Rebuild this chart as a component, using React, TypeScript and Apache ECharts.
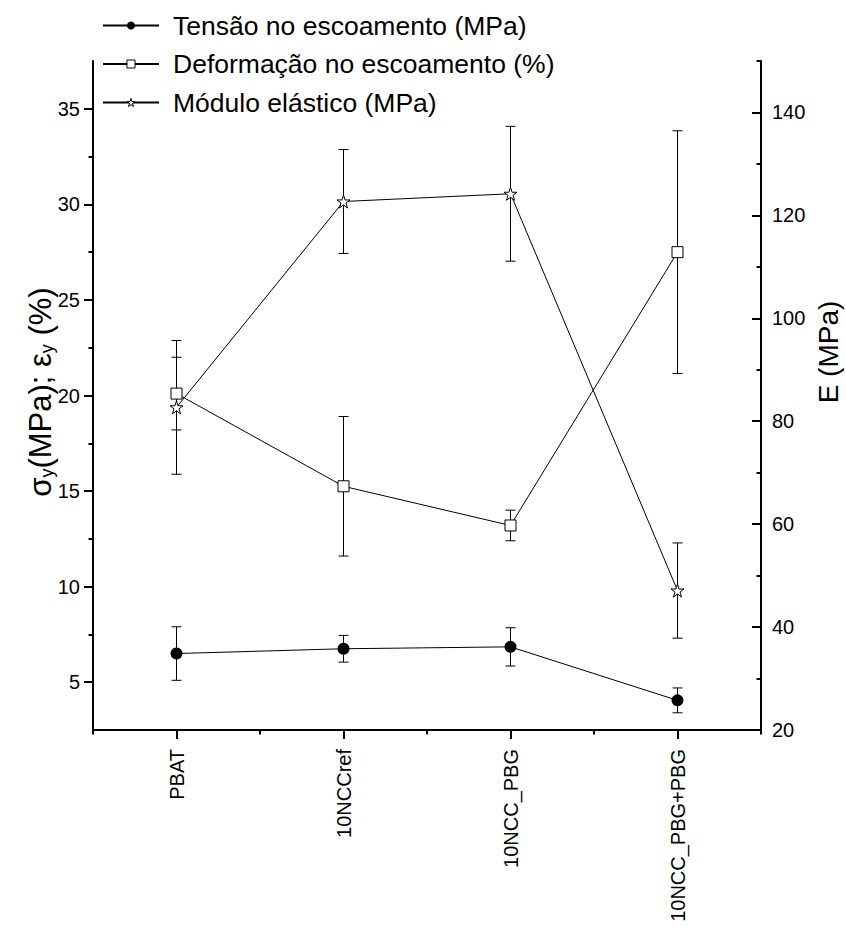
import React, { useEffect, useRef } from 'react';
import * as echarts from 'echarts';

const categories = ['PBAT', '10NCCref', '10NCC_PBG', '10NCC_PBG+PBG'];
const tensao = [6.5, 6.75, 6.85, 4.05];
const tensaoErr = [1.4, 0.7, 1.0, 0.65];
const deformacao = [20.1, 15.25, 13.2, 27.5];
const deformacaoErr = [1.9, 3.65, 0.8, 6.35];
const modulo = [82.7, 122.7, 124.2, 47.1];
const moduloErr = [13, 10.1, 13.1, 9.25];

const leftMajor = [5, 10, 15, 20, 25, 30, 35];
const leftMinor = [7.5, 12.5, 17.5, 22.5, 27.5, 32.5];
const rightMajor = [20, 40, 60, 80, 100, 120, 140];
const rightMinor = [30, 50, 70, 90, 110, 130, 150];

const seriesNames = ['Tensão no escoamento (MPa)', 'Deformação no escoamento (%)', 'Módulo elástico (MPa)'];

const STAR = 'path://M50,0 L61.8,35.1 L98.8,35.1 L68.8,56.8 L80.3,91.9 L50,70.2 L19.7,91.9 L31.2,56.8 L1.2,35.1 L38.2,35.1 Z';
const FONT = '"Liberation Sans", Arial, Helvetica, sans-serif';

function errorBars(values: number[], errs: number[], yAxisIndex: number) {
  return {
    type: 'custom',
    xAxisIndex: 0,
    yAxisIndex,
    z: 1,
    silent: true,
    data: values.map((v, i) => [i, v - errs[i], v + errs[i]]),
    encode: { x: 0, y: [1, 2] },
    renderItem: (params: any, api: any) => {
      const lo = api.coord([api.value(0), api.value(1)]);
      const hi = api.coord([api.value(0), api.value(2)]);
      const hw = 5;
      const style = { stroke: '#000', lineWidth: 1 };
      return {
        type: 'group',
        children: [
          { type: 'line', shape: { x1: hi[0], y1: hi[1], x2: lo[0], y2: lo[1] }, style },
          { type: 'line', shape: { x1: hi[0] - hw, y1: hi[1], x2: hi[0] + hw, y2: hi[1] }, style },
          { type: 'line', shape: { x1: lo[0] - hw, y1: lo[1], x2: lo[0] + hw, y2: lo[1] }, style },
        ],
      };
    },
  };
}

export default function App() {
  const ref = useRef<HTMLDivElement>(null);
  useEffect(() => {
    if (!ref.current) return;
    const chart = echarts.init(ref.current, null, { renderer: 'svg' });
    const axisLine = { show: true, lineStyle: { color: '#000', width: 2 } };
    const labelStyle = { color: '#000', fontSize: 20, fontFamily: FONT };
    const hollow = { color: '#fff', borderColor: '#000', borderWidth: 1 };
    chart.setOption({
      animation: false,
      textStyle: { fontFamily: FONT, color: '#000' },
      grid: { left: 93, right: 85, top: 61, bottom: 197 },
      legend: {
        data: [
          { name: seriesNames[0], itemStyle: { color: '#000', borderWidth: 0 } },
          { name: seriesNames[1], itemStyle: hollow },
          { name: seriesNames[2], itemStyle: hollow },
        ],
        orient: 'vertical',
        left: 102,
        top: 12,
        padding: 0,
        itemWidth: 56,
        itemHeight: 10,
        itemGap: 11.5,
        textStyle: { fontSize: 26.5, color: '#000', fontFamily: FONT, padding: [0, 0, 0, 9] },
        selectedMode: false,
      },
      xAxis: [
        {
          type: 'category',
          data: categories,
          position: 'bottom',
          boundaryGap: true,
          axisLine,
          axisTick: { show: true, alignWithLabel: true, length: 9, lineStyle: { color: '#000', width: 2 } },
          axisLabel: { ...labelStyle, rotate: 90, margin: 19, interval: 0 },
          splitLine: { show: false },
        },
        {
          type: 'category',
          data: categories,
          position: 'bottom',
          boundaryGap: true,
          axisLine: { show: false },
          axisTick: { show: true, alignWithLabel: false, length: 4.5, lineStyle: { color: '#000', width: 2 } },
          axisLabel: { show: false },
          splitLine: { show: false },
        },
      ],
      yAxis: [
        {
          type: 'value',
          position: 'left',
          min: 2.5,
          max: 37.5,
          axisLine,
          axisTick: { show: true, customValues: leftMajor, length: 9, lineStyle: { color: '#000', width: 2 } },
          axisLabel: { ...labelStyle, customValues: leftMajor, margin: 13 },
          splitLine: { show: false },
        },
        {
          type: 'value',
          position: 'right',
          min: 20,
          max: 150,
          axisLine,
          axisTick: { show: true, inside: true, customValues: rightMajor, length: 9, lineStyle: { color: '#000', width: 2 } },
          axisLabel: { ...labelStyle, customValues: rightMajor, margin: 11 },
          splitLine: { show: false },
        },
        {
          type: 'value',
          position: 'left',
          offset: 0,
          min: 2.5,
          max: 37.5,
          axisLine: { show: false },
          axisTick: { show: true, customValues: leftMinor, length: 4.5, lineStyle: { color: '#000', width: 2 } },
          axisLabel: { show: false },
          splitLine: { show: false },
        },
        {
          type: 'value',
          position: 'right',
          offset: 0,
          min: 20,
          max: 150,
          axisLine: { show: false },
          axisTick: { show: true, inside: true, customValues: rightMinor, length: 4.5, lineStyle: { color: '#000', width: 2 } },
          axisLabel: { show: false },
          splitLine: { show: false },
        },
      ],
      graphic: [
        {
          type: 'text',
          x: 40,
          y: 392,
          rotation: Math.PI / 2,
          style: {
            text: '{a|σ}{b|y}{a|(MPa); ε}{b|y}{a| (%)}',
            align: 'center',
            verticalAlign: 'middle',
            fill: '#000',
            rich: {
              a: { fontSize: 31, fontFamily: FONT, lineHeight: 31, verticalAlign: 'top', fill: '#000' },
              b: { fontSize: 18, fontFamily: FONT, lineHeight: 18, verticalAlign: 'bottom', padding: [18, 0, 0, 0], fill: '#000' },
            },
          },
        },
        {
          type: 'text',
          x: 828,
          y: 352,
          rotation: Math.PI / 2,
          style: {
            text: 'E (MPa)',
            align: 'center',
            verticalAlign: 'middle',
            fill: '#000',
            fontSize: 28,
            fontFamily: FONT,
          },
        },
      ],
      series: [
        errorBars(tensao, tensaoErr, 0),
        errorBars(deformacao, deformacaoErr, 0),
        errorBars(modulo, moduloErr, 1),
        {
          name: seriesNames[0],
          type: 'line',
          xAxisIndex: 0,
          yAxisIndex: 0,
          data: tensao,
          symbol: 'circle',
          symbolSize: 12,
          lineStyle: { color: '#000', width: 1 },
          itemStyle: { color: '#000' },
          z: 3,
        },
        {
          name: seriesNames[1],
          type: 'line',
          xAxisIndex: 0,
          yAxisIndex: 0,
          data: deformacao,
          symbol: 'rect',
          symbolSize: 11,
          lineStyle: { color: '#000', width: 1 },
          itemStyle: hollow,
          z: 3,
        },
        {
          name: seriesNames[2],
          type: 'line',
          xAxisIndex: 0,
          yAxisIndex: 1,
          data: modulo,
          symbol: STAR,
          symbolSize: 13,
          lineStyle: { color: '#000', width: 1 },
          itemStyle: hollow,
          z: 3,
        },
      ],
    });
    return () => chart.dispose();
  }, []);
  return <div ref={ref} style={{ position: 'absolute', left: 0, top: 0, width: 846, height: 927 }} />;
}
